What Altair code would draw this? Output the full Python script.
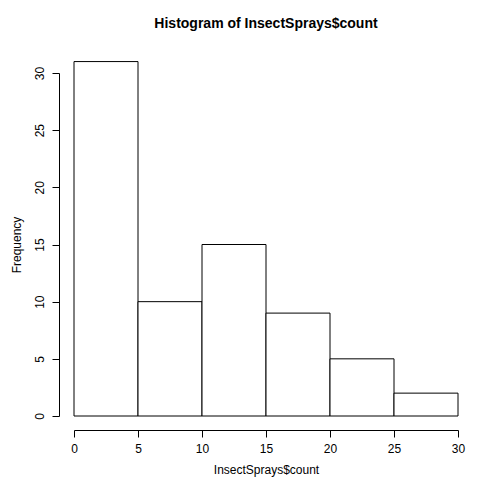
import altair as alt
import pandas as pd

bin_start = [0, 5, 10, 15, 20, 25]
bin_end = [5, 10, 15, 20, 25, 30]
counts = [31, 10, 15, 9, 5, 2]
df = pd.DataFrame({"a": bin_start, "b": bin_end, "c": counts, "z": [0] * 6})

F = "Liberation Sans"
chart = alt.Chart(df).mark_bar(fill="white", stroke="black", strokeWidth=1).encode(
    x=alt.X("a:Q", scale=alt.Scale(domain=[0, 30], nice=False, zero=False),
            axis=alt.Axis(values=[0, 5, 10, 15, 20, 25, 30], offset=14, grid=False,
                          title="InsectSprays$count", titlePadding=10, labelPadding=6,
                          labelAlign="center", labelFlush=False,
                          tickSize=7, labelFontSize=12, titleFontSize=12, titleFontWeight="normal",
                          labelFont=F, titleFont=F, domainColor="black", tickColor="black",
                          labelColor="black", titleColor="black")),
    x2="b:Q",
    y=alt.Y("c:Q", scale=alt.Scale(domain=[0, 30], nice=False),
            axis=alt.Axis(values=[0, 5, 10, 15, 20, 25, 30], offset=15, grid=False,
                          title="Frequency", titlePadding=10, labelPadding=6, labelAngle=-90,
                          labelAlign="center", labelBaseline="bottom", labelFlush=False,
                          tickSize=7, labelFontSize=12, titleFontSize=12, titleFontWeight="normal",
                          labelFont=F, titleFont=F, domainColor="black", tickColor="black",
                          labelColor="black", titleColor="black")),
    y2="z:Q",
).properties(
    width=384, height=343, autosize="none",
    padding={"left": 66, "top": 65, "right": 38, "bottom": 80},
    title=alt.TitleParams("Histogram of InsectSprays$count", font=F, fontSize=14,
                          fontWeight="bold", offset=30, color="black"),
).configure_view(stroke=None)

chart.save("out.html", embed_options={"renderer": "svg", "actions": False})
